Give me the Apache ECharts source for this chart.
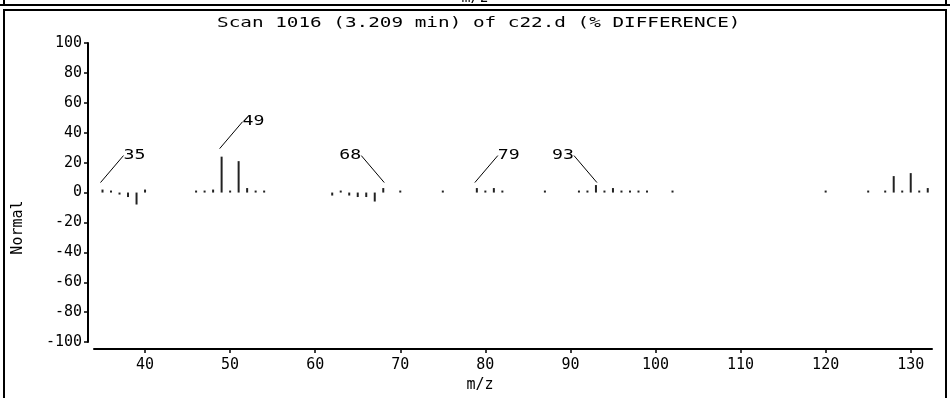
<!DOCTYPE html>
<html>
<head>
<meta charset="utf-8">
<script src="https://cdn.jsdelivr.net/npm/echarts@6/dist/echarts.min.js"></script>
<style>html,body{margin:0;padding:0;background:#fff}#c{width:950px;height:398px}</style>
</head>
<body>
<div id="c"></div>
<script>
// m/z values and % difference intensities
const mzValues = [35,36,37,38,39,40, 46,47,48,49,50,51,52,53,54, 62,63,64,65,66,67,68,70,75, 79,80,81,82,87, 91,92,93,94,95,96,97,98,99,102, 120,125,127,128,129,130,131,132];
const diffValues = [2,1,-1,-3,-8,2, 1,1,2,24,1,21,3,1,1, -2,1,-2,-3,-3,-6,3,1,1, 3,1,3,1,1, 1,1,5,1,3,1,1,1,1,1, 1,1,1,11,1,13,1,3];
const labeledPeaks = [35,49,68,79,93];
const labelDir = [1,1,-1,1,-1];
const xTicks = [40,50,60,70,80,90,100,110,120,130];
const yTicks = [-100,-80,-60,-40,-20,0,20,40,60,80,100];
const titleText = 'Scan 1016 (3.209 min) of c22.d (% DIFFERENCE)';
const xName = 'm/z';
const yName = 'Normal';

const FONT = '"DejaVu Sans Mono", monospace';
const valueOf = m => diffValues[mzValues.indexOf(m)];
const chart = echarts.init(document.getElementById('c'), null, {renderer:'canvas'});
chart.setOption({
  animation: false,
  backgroundColor: '#fff',
  grid: {left: 94, right: 18, top: 43, bottom: 50},
  xAxis: {
    type: 'value', min: 34, max: 132.5, offset: 7,
    name: xName, nameLocation: 'middle', nameGap: 27,
    nameTextStyle: {fontFamily: FONT, fontSize: 15, color: '#000', padding: [0, 66, 0, 0]},
    axisLine: {onZero: false, lineStyle: {color: '#000', width: 2}},
    axisTick: {length: 4, lineStyle: {color: '#000', width: 1.5}, customValues: xTicks},
    axisLabel: {fontFamily: FONT, fontSize: 15, color: '#000', margin: 9, customValues: xTicks},
    splitLine: {show: false}
  },
  yAxis: {
    type: 'value', min: -100, max: 100, interval: 20, offset: 6,
    name: yName, nameLocation: 'middle', nameGap: 62, nameRotate: 90,
    nameTextStyle: {fontFamily: FONT, fontSize: 15, color: '#000', padding: [0, 70, 0, 0]},
    axisLine: {onZero: false, lineStyle: {color: '#000', width: 2}},
    axisTick: {length: 4, lineStyle: {color: '#000', width: 1.5}},
    axisLabel: {fontFamily: FONT, fontSize: 15, color: '#000', margin: 6},
    splitLine: {show: false}
  },
  graphic: [
    {type: 'text', left: 'center', top: -9, style: {text: xName, font: '15px ' + FONT, fill: '#000'}},
    {type: 'line', shape: {x1: 0, y1: 5, x2: 950, y2: 5}, style: {stroke: '#000', lineWidth: 2}},
    {type: 'line', shape: {x1: 4, y1: 0, x2: 4, y2: 5}, style: {stroke: '#000', lineWidth: 2}},
    {type: 'line', shape: {x1: 946, y1: 0, x2: 946, y2: 5}, style: {stroke: '#000', lineWidth: 2}},
    {type: 'rect', shape: {x: 4, y: 10, width: 942, height: 392}, style: {fill: 'none', stroke: '#000', lineWidth: 2}},
    {type: 'text', x: 217, y: 16, scaleX: 1.38, style: {text: titleText, font: '14px ' + FONT, fill: '#000'}}
  ],
  series: [
    {
      type: 'bar', barWidth: 2, barMinHeight: 2,
      itemStyle: {color: '#222'},
      data: mzValues.map((m, i) => [m, diffValues[i]])
    },
    {
      type: 'custom', coordinateSystem: 'cartesian2d', silent: true,
      data: labeledPeaks.map((m, i) => [m, valueOf(m), labelDir[i]]),
      renderItem: function (params, api) {
        const m = api.value(0), v = api.value(1), dir = api.value(2);
        const top = api.coord([m, Math.max(v, 0)]);
        const zero = api.coord([m, 0]);
        const sx = top[0] + (dir > 0 ? -2 : 1);
        const sy = v >= 10 ? top[1] - 8 : zero[1] - 10;
        const ex = sx + dir * 23, ey = sy - 27;
        return {
          type: 'group',
          children: [
            {type: 'line', shape: {x1: sx, y1: sy, x2: ex, y2: ey}, style: {stroke: '#000', lineWidth: 1}},
            {type: 'text', x: ex, y: ey, scaleX: 1.3,
             style: {text: String(m), font: '14px ' + FONT, fill: '#000',
                     textAlign: dir > 0 ? 'left' : 'right', textVerticalAlign: 'middle'}}
          ]
        };
      }
    }
  ]
});
</script>
</body>
</html>
